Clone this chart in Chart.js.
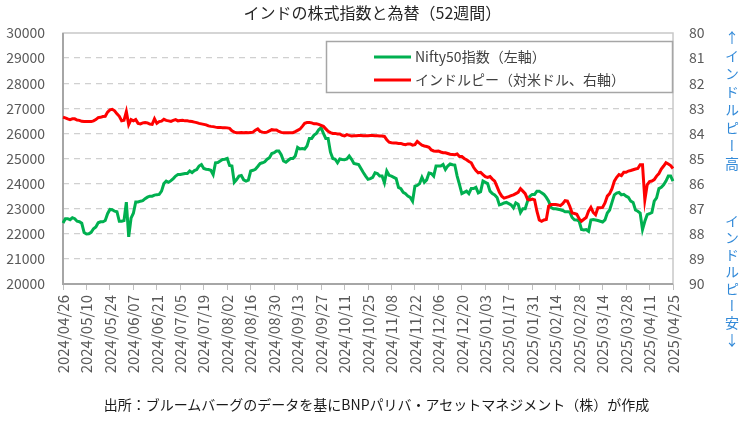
<!DOCTYPE html>
<html>
<head>
<meta charset="utf-8">
<script src="https://cdn.jsdelivr.net/npm/chart.js@4.4.1/dist/chart.umd.min.js"></script>
<style>
  body { margin: 0; background: #fff; }
  #wrap { position: relative; width: 753px; height: 428px; font-family: "Noto Sans CJK JP", sans-serif; }
  #c { position: absolute; left: 0; top: 0; }
  .title { position: absolute; left: 0; width: 745px; top: 1px; text-align: center; font-size: 16px; line-height: 22px; color: #262626; }
  .source { position: absolute; left: 0; width: 753px; top: 394px; text-align: center; font-size: 14px; line-height: 20px; color: #1a1a1a; }
  .vnote { position: absolute; left: 723px; writing-mode: vertical-rl; text-orientation: upright; font-size: 14px; line-height: 18px; color: #3189d8; }
</style>
</head>
<body>
<div id="wrap">
  <canvas id="c" width="753" height="428"></canvas>
  <div class="title">インドの株式指数と為替（52週間）</div>
  <div class="vnote" style="top:31px; letter-spacing:4px">↑インドルピー高</div>
  <div class="vnote" style="top:214px; letter-spacing:3px">インドルピー安↓</div>
  <div class="source">出所：ブルームバーグのデータを基にBNPパリバ・アセットマネジメント（株）が作成</div>
</div>
<script>
// business days, 2024/04/26 - 2025/04/25
const startDate = "2024-04-26";
const dayCount = 261;

const seriesNames = ["Nifty50指数（左軸）", "インドルピー（対米ドル、右軸）"];

// Nifty50, one value per business day
const nifty = [
  22430,22600,22600,22560,22640,22600,22500,22480,22420,22050,
  21990,22000,22060,22200,22270,22440,22480,22480,22530,22800,
  22970,22960,22900,22880,22500,22500,22530,23260,21880,22620,
  22820,23270,23270,23300,23320,23400,23460,23500,23500,23540,
  23560,23570,23700,24000,24100,24050,24120,24200,24300,24360,
  24360,24380,24400,24400,24500,24440,24520,24560,24700,24760,
  24600,24570,24560,24530,24360,24830,24840,24900,24960,24970,
  25000,24720,24700,24050,24160,24300,24320,24150,24100,24140,
  24500,24530,24570,24680,24800,24830,24870,24970,25030,25200,
  25230,25300,25300,25150,24900,24850,24930,25000,25000,25100,
  25440,25380,25400,25380,25500,25800,25800,25930,26000,26150,
  26230,26000,25800,25800,25250,25000,24970,24830,24980,24960,
  24950,24980,25100,24970,24800,24780,24760,24600,24440,24300,
  24170,24200,24250,24430,24400,24300,24300,24030,24500,24330,
  24300,24250,24200,23850,23800,23650,23600,23500,23450,23300,
  23900,23930,24000,24250,24050,24150,24420,24400,24300,24700,
  24700,24700,24760,24560,24700,24780,24750,24740,24300,23960,
  23600,23650,23700,23600,23800,23800,23850,23630,23680,24100,
  24050,24000,23700,23600,23550,23450,23150,23180,23230,23250,
  23200,23150,23030,23230,23180,22850,23000,23000,23300,23500,
  23570,23570,23700,23700,23630,23570,23450,23300,23050,23000,
  23000,22980,22960,22930,22880,22880,22870,22650,22560,22550,
  22500,22170,22150,22170,22100,22550,22570,22550,22530,22500,
  22470,22550,22830,22950,23250,23550,23620,23650,23550,23570,
  23500,23450,23300,23250,22950,22900,22830,22170,22500,22760,
  22800,22850,23300,23430,23800,23850,23950,24100,24300,24300,
  24100
];

// INR per USD, one value per business day
const inr = [
  83.36,83.38,83.42,83.45,83.42,83.42,83.47,83.48,83.52,83.53,
  83.53,83.53,83.53,83.50,83.45,83.37,83.36,83.33,83.32,83.15,
  83.06,83.04,83.10,83.22,83.32,83.50,83.48,83.13,83.65,83.45,
  83.50,83.45,83.60,83.62,83.58,83.57,83.58,83.63,83.64,83.42,
  83.60,83.53,83.51,83.44,83.48,83.50,83.52,83.48,83.45,83.50,
  83.49,83.48,83.50,83.50,83.52,83.53,83.55,83.57,83.60,83.62,
  83.64,83.66,83.70,83.72,83.73,83.75,83.76,83.76,83.77,83.77,
  83.78,83.80,83.90,83.95,83.97,83.97,83.96,83.97,83.96,83.97,
  83.96,83.95,83.87,83.82,83.92,83.95,83.96,83.95,83.90,83.85,
  83.86,83.86,83.92,83.96,83.97,83.97,83.97,83.97,83.97,83.93,
  83.88,83.83,83.72,83.60,83.57,83.57,83.58,83.62,83.62,83.64,
  83.68,83.72,83.82,83.92,83.97,84.00,84.00,84.02,84.02,84.08,
  84.10,84.05,84.08,84.10,84.09,84.09,84.08,84.08,84.09,84.09,
  84.09,84.08,84.08,84.09,84.09,84.10,84.10,84.12,84.25,84.35,
  84.37,84.38,84.38,84.40,84.40,84.43,84.45,84.42,84.42,84.47,
  84.45,84.32,84.40,84.47,84.50,84.52,84.55,84.66,84.70,84.71,
  84.70,84.74,84.77,84.77,84.80,84.83,84.84,84.85,84.82,84.92,
  84.92,85.00,85.05,85.12,85.17,85.35,85.48,85.57,85.55,85.64,
  85.72,85.75,85.72,85.82,85.90,86.12,86.35,86.50,86.58,86.55,
  86.52,86.48,86.45,86.40,86.35,86.20,86.30,86.40,86.62,86.65,
  86.62,86.65,87.10,87.45,87.50,87.45,87.43,86.90,86.83,86.83,
  86.83,86.85,86.88,86.80,86.68,86.70,86.90,87.17,87.19,87.22,
  87.40,87.50,87.42,87.35,87.10,86.95,87.15,87.24,86.96,86.96,
  86.95,86.77,86.50,86.40,86.20,85.90,85.75,85.64,85.68,85.55,
  85.55,85.50,85.48,85.45,85.42,85.40,85.25,85.25,86.65,86.05,
  85.92,85.90,85.84,85.70,85.60,85.42,85.30,85.17,85.22,85.28,
  85.40
];

const leftMin = 20000, leftMax = 30000, leftStep = 1000;
const rightMin = 80, rightMax = 90, rightStep = 1;
const tickEvery = 10; // every 2 weeks

// category labels
const labels = [];
{
  const d = new Date(startDate + "T00:00:00");
  while (labels.length < dayCount) {
    const wd = d.getDay();
    if (wd !== 0 && wd !== 6) {
      const mm = String(d.getMonth() + 1).padStart(2, "0");
      const dd = String(d.getDate()).padStart(2, "0");
      labels.push(d.getFullYear() + "/" + mm + "/" + dd);
    }
    d.setDate(d.getDate() + 1);
  }
}

const FONT = '"Noto Sans CJK JP", sans-serif';
const GREEN = "#00b050";
const RED = "#ff0000";

// plot frame + legend box
const framePlugin = {
  id: "frame",
  beforeDatasetsDraw(chart) {
    const { ctx, chartArea: a } = chart;
    ctx.save();
    ctx.strokeStyle = "#c8c8c8";
    ctx.lineWidth = 1.5;
    ctx.strokeRect(a.left, a.top, a.right - a.left, a.bottom - a.top);
    ctx.strokeStyle = "#a6a6a6";
    ctx.lineWidth = 2;
    ctx.beginPath();
    ctx.moveTo(a.left, a.top);
    ctx.lineTo(a.left, a.bottom);
    ctx.lineTo(a.right, a.bottom);
    ctx.stroke();
    ctx.restore();
  },
  afterDraw(chart) {
    const { ctx } = chart;
    ctx.save();
    ctx.fillStyle = "#fff";
    ctx.fillRect(326, 41, 347, 52);
    ctx.strokeStyle = "#a6a6a6";
    ctx.lineWidth = 1.5;
    ctx.strokeRect(326.5, 41.5, 346, 51);
    const rows = [[seriesNames[0], GREEN, 57], [seriesNames[1], RED, 80]];
    ctx.font = "14px " + FONT;
    ctx.textBaseline = "middle";
    rows.forEach(([txt, col, y]) => {
      ctx.strokeStyle = col;
      ctx.lineWidth = 3;
      ctx.beginPath();
      ctx.moveTo(374, y);
      ctx.lineTo(411, y);
      ctx.stroke();
      ctx.fillStyle = "#404040";
      ctx.fillText(txt, 415, y);
    });
    ctx.restore();
  }
};

new Chart(document.getElementById("c"), {
  type: "line",
  data: {
    labels: labels,
    datasets: [{
      label: seriesNames[0],
      data: nifty,
      yAxisID: "y",
      borderColor: GREEN,
      borderWidth: 3,
      pointRadius: 0,
      tension: 0,
      order: 2
    }, {
      label: seriesNames[1],
      data: inr,
      yAxisID: "y2",
      borderColor: RED,
      borderWidth: 3,
      pointRadius: 0,
      tension: 0,
      order: 1
    }]
  },
  options: {
    responsive: false,
    animation: false,
    layout: { padding: { top: 33, left: 0, right: 0, bottom: 0 } },
    plugins: {
      legend: { display: false },
      title: { display: false },
      tooltip: { enabled: false }
    },
    scales: {
      x: {
        type: "category",
        offset: false,
        grid: {
          drawOnChartArea: false,
          drawTicks: true,
          tickLength: 6,
          tickColor: c => (c.index % tickEvery === 0 ? "#bfbfbf" : "rgba(0,0,0,0)")
        },
        border: { display: false },
        ticks: {
          autoSkip: false,
          maxRotation: 90,
          minRotation: 90,
          padding: 5,
          color: "#595959",
          font: { size: 15, family: FONT },
          callback: function (v, i) {
            return i % tickEvery === 0 ? this.getLabelForValue(v) : "";
          }
        },
        afterFit(s) { s.height = 144; }
      },
      y: {
        position: "left",
        min: leftMin,
        max: leftMax,
        grid: {
          drawTicks: false,
          color: c => (c.tick.value === leftMin || c.tick.value === leftMax ? "rgba(0,0,0,0)" : "#d0d0d0"),
          lineWidth: 1.2
        },
        border: { display: false, dash: [6, 5] },
        ticks: {
          stepSize: leftStep,
          padding: 18,
          color: "#595959",
          font: { size: 14, family: FONT },
          callback: v => String(v)
        },
        afterFit(s) { s.width = 63; }
      },
      y2: {
        position: "right",
        min: rightMin,
        max: rightMax,
        reverse: true,
        grid: { display: false, drawTicks: false },
        border: { display: false },
        ticks: {
          stepSize: rightStep,
          padding: 16,
          color: "#595959",
          font: { size: 14, family: FONT }
        },
        afterFit(s) { s.width = 80; }
      }
    }
  },
  plugins: [framePlugin]
});
</script>
</body>
</html>
